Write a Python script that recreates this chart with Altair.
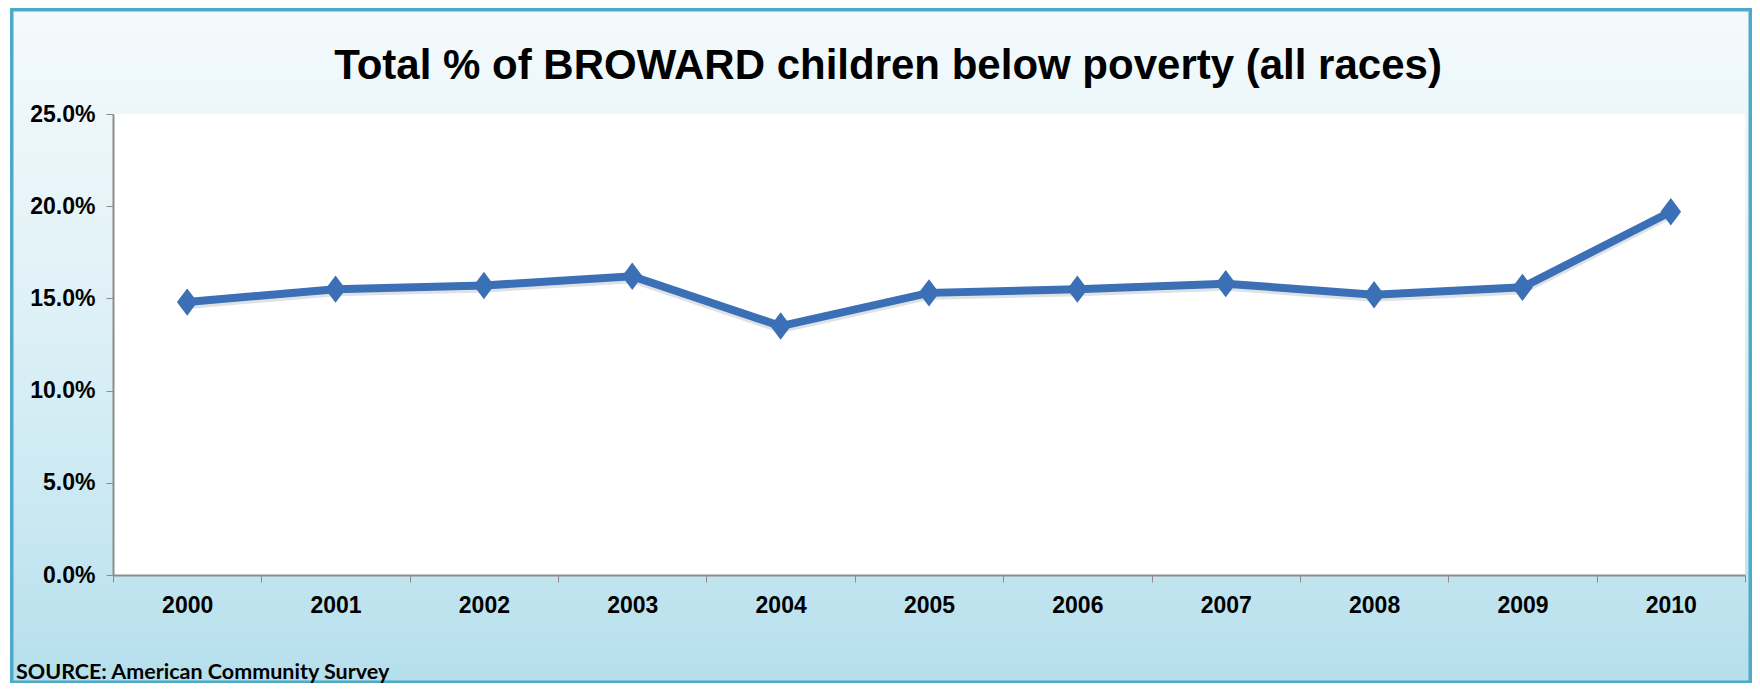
import altair as alt
import pandas as pd

years = ["2000", "2001", "2002", "2003", "2004", "2005", "2006", "2007", "2008", "2009", "2010"]
pct = [0.148, 0.155, 0.157, 0.162, 0.135, 0.153, 0.155, 0.158, 0.152, 0.156, 0.197]

title_text = "Total % of BROWARD children below poverty (all races)"
source_text = "SOURCE: American Community Survey"

df = pd.DataFrame({"year": years, "pct": pct})

W, H = 1632, 461
LINE = "#3B6FB6"

base = alt.Chart(df)

frame = base.mark_rect(
    stroke="#4FA9C8", strokeWidth=3,
    color=alt.LinearGradient(
        gradient="linear", x1=0, x2=0, y1=0, y2=1,
        stops=[alt.GradientStop(color="#F4FAFC", offset=0),
               alt.GradientStop(color="#E4F3F8", offset=0.35),
               alt.GradientStop(color="#CDEAF3", offset=0.7),
               alt.GradientStop(color="#B5DFEC", offset=1)]),
).encode(x=alt.value(-101), x2=alt.value(1637), y=alt.value(-104), y2=alt.value(568))

plotbg = base.mark_rect(color="white").encode(
    x=alt.value(0), x2=alt.value(W), y=alt.value(0), y2=alt.value(H))

xenc = alt.X("year:N", title=None, sort=years,
             scale=alt.Scale(type="band", paddingInner=0, paddingOuter=0),
             axis=alt.Axis(tickBand="extent", labelAngle=0, labelFont="Liberation Sans",
                           labelFontWeight="bold", labelFontSize=23, labelColor="#000",
                           labelPadding=12, tickSize=7, tickColor="#8C8C8C",
                           domainColor="#8C8C8C", domainWidth=2, zindex=2))
yenc = alt.Y("pct:Q", title=None,
             scale=alt.Scale(domain=[0, 0.25], nice=False),
             axis=alt.Axis(values=[0, 0.05, 0.10, 0.15, 0.20, 0.25], format=".1%",
                           labelFont="Liberation Sans", labelFontWeight="bold",
                           labelFontSize=23, labelColor="#000", labelPadding=11,
                           tickSize=7, tickColor="#8C8C8C", domainColor="#8C8C8C",
                           domainWidth=2, grid=False, zindex=2))

shadow = base.mark_line(color="#7A8A99", strokeWidth=8, opacity=0.25, yOffset=3).encode(x=xenc, y=yenc)
line = base.mark_line(color=LINE, strokeWidth=8).encode(x=xenc, y=yenc)
pts = base.mark_point(shape="M-0.75,0L0,-1L0.75,0L0,1Z", filled=True, color=LINE,
                      size=750, opacity=1).encode(x=xenc, y=yenc)

title = base.mark_text(
    text=title_text, font="Liberation Sans", fontWeight="bold", fontSize=42,
    align="center", baseline="alphabetic", color="#000").encode(
    x=alt.value(775), y=alt.value(-35))

source = base.mark_text(
    text=source_text, font="Lato", fontWeight="bold", fontSize=21.5,
    align="left", baseline="alphabetic", color="#000").encode(
    x=alt.value(-97), y=alt.value(565))

chart = alt.layer(frame, plotbg, shadow, line, pts,
                  title.transform_filter("datum.year == '2000'"),
                  source.transform_filter("datum.year == '2000'")).properties(
    width=W, height=H,
    autosize=alt.AutoSizeParams(type="none"),
    padding={"left": 105, "top": 106, "right": 7, "bottom": 108},
    background="white",
).configure_view(stroke=None)

chart.save("out.html", embed_options={"renderer": "svg", "actions": False})
